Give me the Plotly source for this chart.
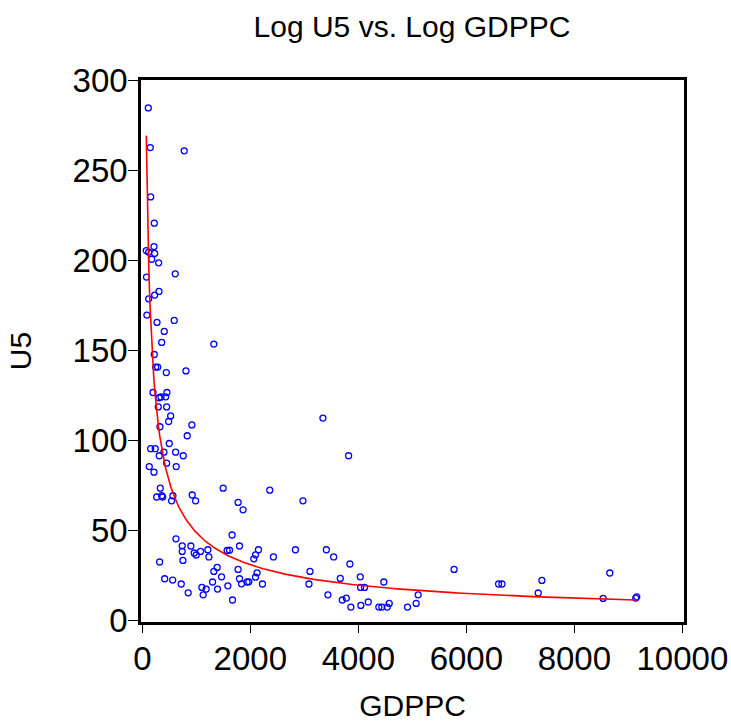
import numpy as np
import plotly.graph_objects as go

gdppc = [111, 148, 776, 155, 222, 216, 74, 118, 229, 174, 303, 610, 78, 309, 229, 118,
         85, 272, 591, 407, 359, 1325, 222, 248, 285, 444, 808, 198, 456, 309, 346, 432,
         296, 451, 525, 488, 327, 918, 3345, 832, 155, 240, 499, 401, 314, 617, 758, 451,
         129, 216, 628, 333, 266, 359, 377, 567, 543, 924, 987, 1497, 1774, 1866, 2360,
         2975, 3820, 623, 739, 739, 900, 961, 998, 1079, 1214, 1233, 752, 321, 1663, 1571,
         1615, 1800, 2151, 2096, 2064, 1386, 1325, 1467, 1774, 2125, 2096, 414, 562, 721,
         850, 1301, 1103, 1183, 1127, 1393, 1584, 1671, 1800, 1837, 1940, 1972, 2225, 2428,
         2835, 3408, 3543, 3844, 4036, 3666, 3105, 3086, 3437, 3703, 3777, 3862, 4047, 4184,
         4042, 4115, 4380, 4472, 4435, 4535, 4572, 4910, 5071, 5108, 5773, 6597, 6660, 7399,
         7331, 8656, 8532, 9136, 9155]
u5 = [284.7, 262.7, 260.9, 235.3, 220.7, 207.7, 205.5, 204.6, 203.9, 200.7, 198.7, 192.6,
      190.8, 182.8, 180.8, 178.7, 169.7, 165.6, 166.7, 160.6, 154.5, 153.6, 147.8, 140.8,
      140.8, 137.8, 138.7, 126.7, 126.7, 123.8, 124.2, 124.3, 118.7, 118.7, 113.7, 110.6,
      107.7, 108.7, 112.5, 102.7, 95.5, 95.5, 98.4, 93.6, 91.6, 93.6, 91.6, 87.5, 85.6,
      82.5, 85.6, 73.6, 68.7, 69.4, 68.7, 69.4, 66.6, 69.8, 66.6, 73.6, 65.7, 61.6, 72.5,
      66.6, 91.6, 45.5, 41.6, 38.5, 41.5, 37.6, 36.5, 38.5, 39.4, 35.4, 33.5, 32.6, 47.6,
      39.0, 39.2, 41.5, 39.4, 36.6, 34.4, 29.6, 27.4, 24.4, 28.5, 26.6, 24.2, 23.3, 22.6,
      20.4, 15.5, 21.5, 18.5, 17.6, 14.4, 17.6, 19.4, 11.5, 23.3, 20.5, 21.5, 21.6, 20.4,
      35.4, 39.4, 39.4, 35.4, 31.5, 24.4, 23.5, 27.4, 20.4, 14.4, 11.5, 12.6, 7.6, 8.5,
      10.4, 18.5, 18.5, 7.6, 21.5, 7.6, 7.6, 9.6, 7.6, 9.6, 14.4, 28.5, 20.4, 20.4, 22.4,
      15.4, 26.5, 12.4, 12.6, 13.3]

x_ticks = [0, 2000, 4000, 6000, 8000, 10000]
x_ticktext = ["0", "2000", "4000", "6000", "8000", "10000"]
y_ticks = [0, 50, 100, 150, 200, 250, 300]
y_ticktext = ["0", "50", "100", "150", "200", "250", "300"]

# log-log regression line, shown in levels
lx = np.log(np.array(gdppc, dtype=float))
ly = np.log(np.array(u5, dtype=float))
b, a = np.polyfit(lx, ly, 1)
xfit = np.linspace(min(gdppc), max(gdppc), 400)
yfit = np.exp(a + b * np.log(xfit))

font = "Liberation Sans, Arial, Helvetica, sans-serif"

fig = go.Figure()
fig.add_trace(go.Scatter(x=gdppc, y=u5, mode="markers",
                         marker=dict(symbol="circle-open", size=6, color="#0000ff",
                                     line=dict(width=1.3, color="#0000ff")),
                         showlegend=False, hoverinfo="skip"))
fig.add_trace(go.Scatter(x=xfit, y=yfit, mode="lines",
                         line=dict(color="#ff0000", width=1.6),
                         showlegend=False, hoverinfo="skip"))

fig.update_layout(
    width=731, height=723,
    margin=dict(l=141, r=47, t=80, b=101),
    paper_bgcolor="white", plot_bgcolor="white",
    font=dict(family=font, color="black"),
    title=dict(text="Log U5 vs. Log GDPPC", x=0.5636, xanchor="center",
               y=0.964, yanchor="middle", yref="container",
               font=dict(size=30, family=font, color="black")),
)
fig.update_xaxes(range=[-24, 10030], tickvals=x_ticks, ticktext=x_ticktext,
                 ticks="outside", ticklen=8, ticklabelstandoff=-2, automargin=False,
                 tickwidth=1, tickcolor="black", showgrid=False, zeroline=False,
                 showline=True, linecolor="black", linewidth=2.5, mirror=True,
                 tickfont=dict(size=33, family=font),
                 title=dict(text="GDPPC", font=dict(size=30, family=font), standoff=19))
fig.update_yaxes(range=[-0.7, 300.2], tickvals=y_ticks, ticktext=y_ticktext,
                 ticks="outside", ticklen=10, ticklabelstandoff=-6, automargin=False,
                 tickwidth=1, tickcolor="black", showgrid=False, zeroline=False,
                 showline=True, linecolor="black", linewidth=2.5, mirror=True,
                 tickfont=dict(size=33, family=font),
                 title=dict(text="U5", font=dict(size=30, family=font), standoff=33))

fig.write_html("out.html", config={"displayModeBar": False},
               post_script="document.body.style.margin='0';document.body.style.overflow='hidden';")
